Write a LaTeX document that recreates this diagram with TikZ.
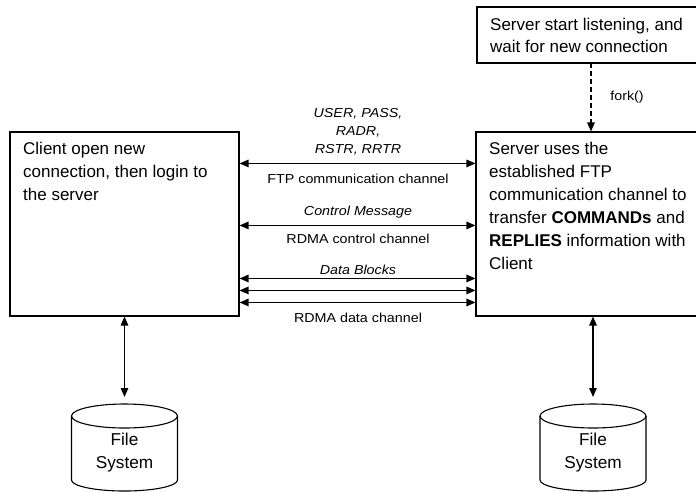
\documentclass[tikz,border=0pt]{standalone}
\usepackage{fontspec}
\setmainfont{Liberation Sans}
\newfontfamily\lblfont[FakeStretch=1.1]{Liberation Sans}
\usetikzlibrary{arrows.meta}

\tikzset{
  procbox/.style={draw, line width=1.1pt, inner sep=0pt},
  boxtext/.style={anchor=north west, inner sep=0pt, align=left,
    font=\fontsize{17}{23}\selectfont},
  chanlabel/.style={inner sep=0pt, align=center,
    font=\lblfont\fontsize{13}{18}\selectfont},
  chanlabelit/.style={chanlabel, font=\lblfont\itshape\fontsize{13}{18}\selectfont},
  biarrow/.style={line width=1.4pt,
    {Triangle[length=9pt,width=7.5pt]}-{Triangle[length=9pt,width=7.5pt]}},
  onearrow/.style={line width=1.4pt, -{Triangle[length=9pt,width=7.5pt]}},
  cyltext/.style={inner sep=0pt, align=center,
    font=\fontsize{17.2}{23}\selectfont},
}

\begin{document}
\begin{tikzpicture}[x=1pt, y=-1pt]
  \useasboundingbox (0,0) rectangle (696,491);
  \clip (0,0) rectangle (696,491);

  % main process boxes
  \node[procbox, minimum width=229pt, minimum height=184pt] (client) at (124.5,224) {};
  \node[procbox, minimum width=224pt, minimum height=184pt] (server) at (588,224) {};
  \node[procbox, minimum width=224pt, minimum height=56pt] (listen) at (589,35) {};

  \node[boxtext] (clienttxt) at (23,142) {Client open new\\connection, then login to\\the server};
  \node[boxtext] (servertxt) at (489,142) {Server uses the\\established FTP\\communication channel to\\transfer \textbf{COMMANDs} and\\\textbf{REPLIES} information with\\Client};
  \node[boxtext, font=\fontsize{17}{22}\selectfont] (listentxt) at (490,18) {Server start listening, and\\wait for new connection};

  % fork
  \coordinate (forktop) at (591,63);
  \draw[onearrow, dash pattern=on 5pt off 3pt] (forktop) -- (forktop |- server.north);
  \node[chanlabel] (forklbl) at (627,97) {fork()};

  % channels between client and server
  \draw[biarrow] ([yshift=-32pt]client.north east) -- ([yshift=-32pt]server.north west);
  \draw[biarrow] ([yshift=-94pt]client.north east) -- ([yshift=-94pt]server.north west);
  \draw[biarrow] ([yshift=-147pt]client.north east) -- ([yshift=-147pt]server.north west);
  \draw[biarrow] ([yshift=-159pt]client.north east) -- ([yshift=-159pt]server.north west);
  \draw[biarrow] ([yshift=-171pt]client.north east) -- ([yshift=-171pt]server.north west);

  \node[chanlabelit] (ftpcmd) at (358,132) {USER, PASS,\\RADR,\\RSTR, RRTR};
  \node[chanlabel] (ftplbl) at (358,179) {FTP communication channel};
  \node[chanlabelit] (ctrlmsg) at (358,212) {Control Message};
  \node[chanlabel] (ctrllbl) at (358,239) {RDMA control channel};
  \node[chanlabelit] (datablk) at (358,270) {Data Blocks};
  \node[chanlabel] (datalbl) at (358,318) {RDMA data channel};

  % file systems: open-bottom cylinders cut by the page edge
  \foreach \nm/\cx in {fsl/124.5, fsr/593} {
    \draw[line width=1.1pt, fill=white]
      (\cx-53,416) -- (\cx-53,480) arc[start angle=180, end angle=0, x radius=53, y radius=11]
      -- (\cx+53,416);
    \draw[line width=1.1pt] (\cx,416) ellipse[x radius=53, y radius=12];
    \coordinate (\nm top) at (\cx,397);
    \node[cyltext] (\nm) at (\cx,453) {File\\System};
  }

  \draw[biarrow] (client.south -| fsltop) -- (fsltop);
  \draw[biarrow] (server.south -| fsrtop) -- (fsrtop);
\end{tikzpicture}
\end{document}
